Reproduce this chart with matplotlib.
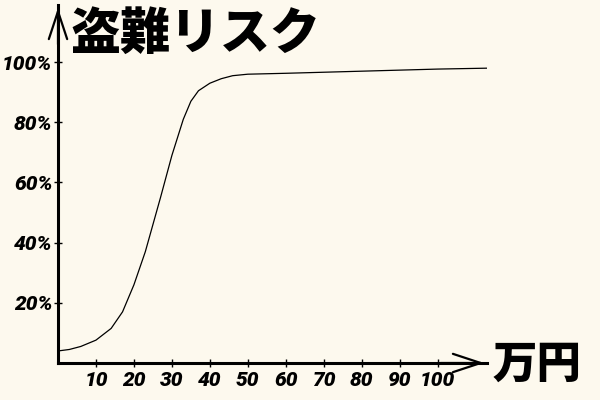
import matplotlib
matplotlib.use("Agg")
import matplotlib.pyplot as plt
import numpy as np

# values (x in 万円, y in %)
price = [0, 3, 6, 10, 14, 17, 20, 23, 25, 27, 30, 33, 35, 37, 40, 43, 46, 50, 60, 80, 100, 113]
risk = [4, 4.5, 5.5, 7.6, 11.5, 17, 26, 37, 46, 55, 69, 81, 87, 90.5, 93, 94.5, 95.5, 96, 96.3, 97, 97.7, 98]

xticks = [10, 20, 30, 40, 50, 60, 70, 80, 90, 100]
yticks = [20, 40, 60, 80, 100]
ylabels = ['20%', '40%', '60%', '80%', '100%']

bg = '#fdf9ee'
jp = ['Noto Sans CJK JP', 'DejaVu Sans']
num = ['Roboto', 'DejaVu Sans']

fig = plt.figure(figsize=(6, 4), dpi=100, facecolor=bg)
ax = fig.add_axes([58/600, 37/400, 429/600, 358/400])
ax.set_facecolor(bg)

ax.plot(price, risk, color='black', lw=0.9)

ax.set_xlim(0, 113)
ax.set_ylim(0, 119)
ax.set_xticks(xticks)
ax.set_yticks(yticks)
ax.set_yticklabels(ylabels)
for s in ['top', 'right']:
    ax.spines[s].set_visible(False)
for s in ['left', 'bottom']:
    ax.spines[s].set_linewidth(2.2)
ax.tick_params(axis='x', direction='inout', length=6, width=1, pad=3)
ax.tick_params(axis='y', direction='inout', length=6, width=1, pad=1)
for lab in ax.get_xticklabels() + ax.get_yticklabels():
    lab.set_family(num)
    lab.set_fontweight('black')
    lab.set_fontstyle('italic')
    lab.set_fontsize(15)

# open arrow heads on both axes
ax.annotate('', xy=(113, 0), xytext=(100, 0), xycoords='data',
            arrowprops=dict(arrowstyle='->,head_length=1.0,head_width=0.33',
                            lw=1.6, color='black', mutation_scale=20),
            annotation_clip=False)
ax.annotate('', xy=(0, 119), xytext=(0, 105), xycoords='data',
            arrowprops=dict(arrowstyle='->,head_length=1.0,head_width=0.33',
                            lw=1.6, color='black', mutation_scale=20),
            annotation_clip=False)

fig.text(70/600, 1 - 34/400, '盗難リスク', family=jp, fontweight='black',
         fontsize=36, va='center', ha='left', fontstyle='italic')
fig.text(493/600, 1 - 364/400, '万円', family=jp, fontweight='black',
         fontsize=32, va='center', ha='left')

fig.savefig('out.png', dpi=100, facecolor=bg)
